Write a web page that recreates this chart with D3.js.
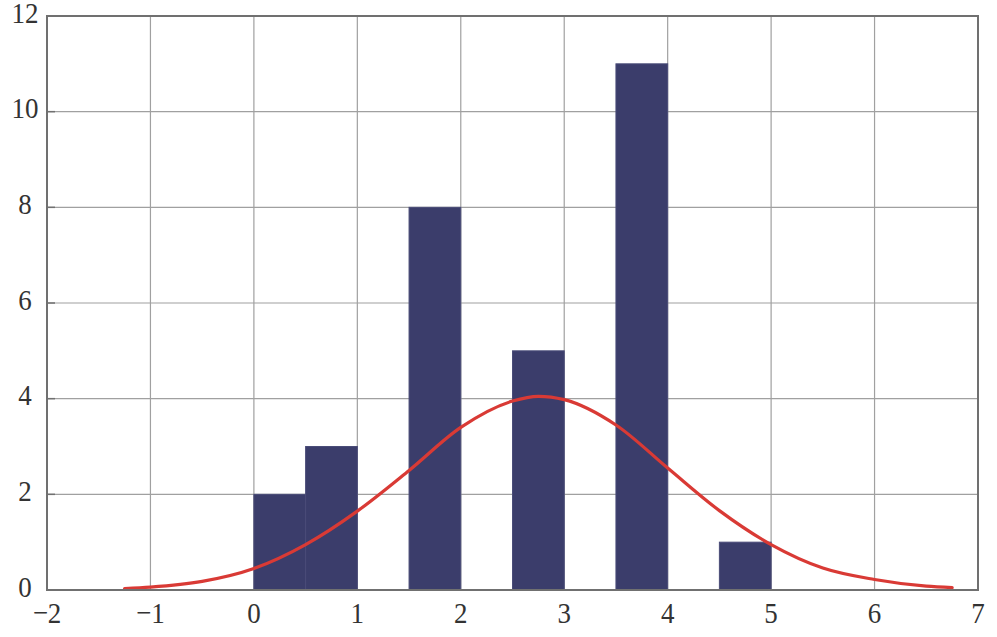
<!DOCTYPE html>
<html><head><meta charset="utf-8">
<script src="https://cdn.jsdelivr.net/npm/d3@7"></script>
<style>body{margin:0;background:#fff} text{font-family:"Liberation Serif","Times New Roman",serif}</style>
</head><body>
<svg id="c" width="997" height="637"></svg>
<script>
// Histogram bins (left edge, right edge) and counts
const binStarts = [0, 0.5, 1.5, 2.5, 3.5, 4.5];
const binEnds   = [0.5, 1, 2, 3, 4, 5];
const counts    = [2, 3, 8, 5, 11, 1];
// Fitted curve
const curveX = [-1.25, -1, -0.5, 0, 0.5, 1, 1.5, 2, 2.5, 2.75, 3, 3.5, 4, 4.5, 5, 5.5, 6, 6.5, 6.75];
const curveY = [0.03, 0.06, 0.18, 0.45, 0.95, 1.65, 2.5, 3.4, 3.95, 4.05, 3.98, 3.45, 2.55, 1.66, 0.95, 0.46, 0.22, 0.08, 0.05];
const xTicks = [-2, -1, 0, 1, 2, 3, 4, 5, 6, 7];
const yTicks = [0, 2, 4, 6, 8, 10, 12];

const L = 47, R = 978, T = 16, B = 590;
const svg = d3.select("#c");
const x = d3.scaleLinear().domain([-2, 7]).range([L, R]);
const y = d3.scaleLinear().domain([0, 12]).range([B, T]);

// grid
svg.append("g").selectAll("line").data(xTicks).join("line")
  .attr("x1", d => x(d)).attr("x2", d => x(d)).attr("y1", T).attr("y2", B)
  .attr("stroke", "#a0a0a0").attr("stroke-width", 1.2);
svg.append("g").selectAll("line").data(yTicks).join("line")
  .attr("y1", d => y(d)).attr("y2", d => y(d)).attr("x1", L).attr("x2", R)
  .attr("stroke", "#a0a0a0").attr("stroke-width", 1.2);

// bars
svg.append("g").selectAll("rect").data(counts).join("rect")
  .attr("x", (d, i) => x(binStarts[i]))
  .attr("width", (d, i) => x(binEnds[i]) - x(binStarts[i]))
  .attr("y", d => y(d)).attr("height", d => B - y(d))
  .attr("fill", "#3b3d6b").attr("stroke", "#4a4c78").attr("stroke-width", 1);

// curve
const line = d3.line().x(d => x(d[0])).y(d => y(d[1])).curve(d3.curveMonotoneX);
svg.append("path").datum(curveX.map((v, i) => [v, curveY[i]]))
  .attr("d", line).attr("fill", "none").attr("stroke", "#d93a35").attr("stroke-width", 3.2)
  .attr("stroke-linecap", "round");

// frame
svg.append("rect").attr("x", L).attr("y", T).attr("width", R - L).attr("height", B - T)
  .attr("fill", "none").attr("stroke", "#707070").attr("stroke-width", 2);

// y ticks (inward)
svg.append("g").selectAll("line").data(yTicks).join("line")
  .attr("x1", L).attr("x2", L + 8).attr("y1", d => y(d)).attr("y2", d => y(d))
  .attr("stroke", "#707070").attr("stroke-width", 1.5);

// labels
const fmt = d => d < 0 ? "\u2212" + Math.abs(d) : String(d);
svg.append("g").selectAll("text").data(xTicks).join("text")
  .attr("transform", d => `translate(${x(d)},${623}) scale(1,1.12)`)
  .attr("text-anchor", "middle").attr("font-size", 27).attr("fill", "#333")
  .text(fmt);
svg.append("g").selectAll("text").data(yTicks).join("text")
  .attr("transform", d => `translate(25,${y(d) + 6.5}) scale(1,1.12)`)
  .attr("text-anchor", "middle").attr("font-size", 27).attr("fill", "#333")
  .text(fmt);
</script>
</body></html>
